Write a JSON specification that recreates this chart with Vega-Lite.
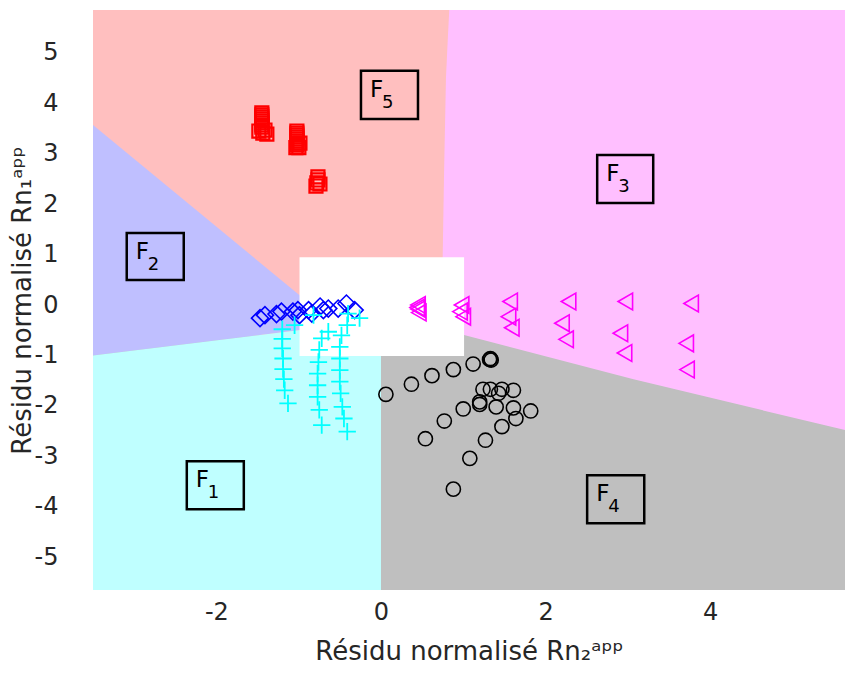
{
  "$schema": "https://vega.github.io/schema/vega-lite/v6.json",
  "width": 752,
  "height": 580,
  "autosize": "none",
  "padding": {"left": 93, "top": 10, "right": 0, "bottom": 87},
  "config": {
    "view": {"fill": "#BFBFBF", "stroke": null},
    "font": "DejaVu Sans"
  },
  "datasets": {
    "pink": [{"x":0.5,"y":-0.38,"y2":5.85},{"x":1.01,"y":-0.595,"y2":5.85},{"x":3.07,"y":-1.47,"y2":5.85},{"x":5.64,"y":-2.48,"y2":5.85}],
    "salmon": [{"y":-0.6,"x":0.74,"x2":-3.5},{"y":0.95,"x":0.75,"x2":-3.5},{"y":2.54,"x":0.766,"x2":-3.5},{"y":4.5,"x":0.79,"x2":-3.5},{"y":5.2,"x":0.81,"x2":-3.5},{"y":5.85,"x":0.83,"x2":-3.5}],
    "blue": [{"x":-3.5,"y":-1.0,"y2":3.57},{"x":-1.0,"y":-0.5,"y2":0.21},{"x":-0.6,"y":-0.42,"y2":-0.33}],
    "cyan": [{"x":-3.5,"y":-5.65,"y2":-1.0},{"x":-1.0,"y":-5.65,"y2":-0.5},{"x":0.0,"y":-5.65,"y2":-0.3}],
    "white": [{"x":-0.99,"x2":1.01,"y":-1.01,"y2":0.95}],
    "circles": [
      {"x":0.06,"y":-1.77},{"x":0.37,"y":-1.57},{"x":0.62,"y":-1.40},{"x":0.88,"y":-1.28},{"x":1.12,"y":-1.17},
      {"x":1.32,"y":-1.08},{"x":1.34,"y":-1.09},{"x":1.33,"y":-1.06},
      {"x":1.24,"y":-1.67},{"x":1.33,"y":-1.67},{"x":1.47,"y":-1.67},{"x":1.61,"y":-1.69},{"x":1.43,"y":-1.75},
      {"x":1.20,"y":-1.92},{"x":1.20,"y":-1.97},{"x":1.40,"y":-2.02},{"x":1.61,"y":-2.04},{"x":1.82,"y":-2.10},
      {"x":1.64,"y":-2.25},{"x":1.47,"y":-2.41},{"x":1.27,"y":-2.68},{"x":1.08,"y":-3.04},{"x":0.88,"y":-3.65},
      {"x":1.00,"y":-2.06},{"x":0.77,"y":-2.30},{"x":0.54,"y":-2.65}
    ],
    "triangles": [
      {"x":0.45,"y":0.0},{"x":0.45,"y":-0.08},{"x":0.46,"y":-0.15},{"x":0.44,"y":-0.05},
      {"x":0.98,"y":0.0},{"x":0.96,"y":-0.13},{"x":1.0,"y":-0.23},
      {"x":1.57,"y":0.07},{"x":1.55,"y":-0.23},{"x":1.59,"y":-0.45},
      {"x":2.28,"y":0.07},{"x":2.20,"y":-0.36},{"x":2.25,"y":-0.68},
      {"x":2.97,"y":0.07},{"x":2.91,"y":-0.56},{"x":2.96,"y":-0.95},
      {"x":3.77,"y":0.03},{"x":3.71,"y":-0.76},{"x":3.72,"y":-1.28}
    ],
    "diamonds": [
      {"x":-1.47,"y":-0.26},{"x":-1.41,"y":-0.20},{"x":-1.27,"y":-0.18},{"x":-1.21,"y":-0.13},{"x":-1.07,"y":-0.13},
      {"x":-1.01,"y":-0.10},{"x":-0.99,"y":-0.20},{"x":-0.88,"y":-0.10},{"x":-0.84,"y":-0.17},{"x":-0.74,"y":-0.03},
      {"x":-0.70,"y":-0.10},{"x":-0.64,"y":-0.07},{"x":-0.52,"y":-0.07},{"x":-0.42,"y":0.03},{"x":-0.32,"y":-0.10}
    ],
    "crosses": [
      {"x":-1.05,"y":-0.40},{"x":-1.20,"y":-0.48},{"x":-1.20,"y":-0.67},{"x":-1.20,"y":-0.86},{"x":-1.19,"y":-1.06},{"x":-1.19,"y":-1.27},{"x":-1.18,"y":-1.47},{"x":-1.17,"y":-1.69},{"x":-1.13,"y":-1.95},
      {"x":-0.82,"y":-0.20},{"x":-0.64,"y":-0.53},{"x":-0.72,"y":-0.66},{"x":-0.75,"y":-0.89},{"x":-0.76,"y":-1.13},{"x":-0.77,"y":-1.36},{"x":-0.77,"y":-1.59},{"x":-0.77,"y":-1.82},{"x":-0.75,"y":-2.08},{"x":-0.72,"y":-2.38},
      {"x":-0.40,"y":-0.17},{"x":-0.26,"y":-0.26},{"x":-0.41,"y":-0.40},{"x":-0.48,"y":-0.60},{"x":-0.50,"y":-0.83},{"x":-0.50,"y":-1.06},{"x":-0.50,"y":-1.29},{"x":-0.50,"y":-1.52},{"x":-0.49,"y":-1.75},{"x":-0.47,"y":-2.02},{"x":-0.45,"y":-2.25},{"x":-0.41,"y":-2.51}
    ],
    "squares": [
      {"x":-1.448,"y":3.81},{"x":-1.448,"y":3.77},{"x":-1.448,"y":3.73},{"x":-1.448,"y":3.69},{"x":-1.448,"y":3.65},{"x":-1.448,"y":3.61},{"x":-1.448,"y":3.57},{"x":-1.448,"y":3.53},
      {"x":-1.484,"y":3.45},{"x":-1.436,"y":3.41},{"x":-1.387,"y":3.39},{"x":-1.41,"y":3.47},
      {"x":-1.022,"y":3.45},{"x":-1.022,"y":3.41},{"x":-1.022,"y":3.37},{"x":-1.022,"y":3.33},{"x":-1.022,"y":3.29},{"x":-1.022,"y":3.25},{"x":-1.022,"y":3.21},{"x":-1.022,"y":3.17},
      {"x":-0.985,"y":3.21},{"x":-0.998,"y":3.12},{"x":-1.034,"y":3.12},
      {"x":-0.766,"y":2.54},{"x":-0.766,"y":2.48},{"x":-0.779,"y":2.42},{"x":-0.79,"y":2.36},{"x":-0.742,"y":2.40}
    ],
    "boxes": [
      {"x":-0.243,"x2":0.450,"y":3.690,"y2":4.643},
      {"x":-3.090,"x2":-2.397,"y":0.496,"y2":1.429},
      {"x":2.628,"x2":3.309,"y":2.024,"y2":2.976},
      {"x":-2.360,"x2":-1.667,"y":-4.048,"y2":-3.095},
      {"x":2.506,"x2":3.200,"y":-4.325,"y2":-3.373}
    ],
    "letters": [
      {"x":-0.134,"y":4.127,"t":"F"},
      {"x":-2.981,"y":0.913,"t":"F"},
      {"x":2.737,"y":2.460,"t":"F"},
      {"x":-2.251,"y":-3.611,"t":"F"},
      {"x":2.616,"y":-3.889,"t":"F"}
    ],
    "digits": [
      {"x":0.012,"y":3.909,"t":"5"},
      {"x":-2.835,"y":0.694,"t":"2"},
      {"x":2.883,"y":2.242,"t":"3"},
      {"x":-2.105,"y":-3.829,"t":"1"},
      {"x":2.762,"y":-4.107,"t":"4"}
    ]
  },
  "encoding": {
    "x": {
      "field": "x", "type": "quantitative",
      "scale": {"domain": [-3.5, 5.64], "nice": false, "zero": false},
      "axis": {
        "title": "Résidu normalisé Rn₂ᵃᵖᵖ", "values": [-2, 0, 2, 4],
        "labelExpr": "'' + datum.value",
        "domain": false, "ticks": false, "grid": false,
        "labelFontSize": 24, "labelPadding": 10, "labelColor": "#262626",
        "titleFontSize": 26, "titleFontWeight": "normal", "titleColor": "#262626", "titlePadding": 14
      }
    },
    "y": {
      "field": "y", "type": "quantitative",
      "scale": {"domain": [-5.65, 5.85], "nice": false, "zero": false},
      "axis": {
        "title": "Résidu normalisé Rn₁ᵃᵖᵖ", "values": [-5, -4, -3, -2, -1, 0, 1, 2, 3, 4, 5],
        "labelExpr": "'' + datum.value",
        "domain": false, "ticks": false, "grid": false,
        "labelFontSize": 24, "labelPadding": 35, "labelColor": "#262626",
        "titleFontSize": 26, "titleFontWeight": "normal", "titleColor": "#262626", "titlePadding": -1
      }
    }
  },
  "layer": [
    {"data": {"name": "pink"}, "mark": {"type": "area", "color": "#FFBFFF", "opacity": 1}, "encoding": {"y2": {"field": "y2"}}},
    {"data": {"name": "salmon"}, "mark": {"type": "area", "orient": "horizontal", "color": "#FFBFBF", "opacity": 1}, "encoding": {"x2": {"field": "x2"}}},
    {"data": {"name": "blue"}, "mark": {"type": "area", "color": "#BFBFFF", "opacity": 1}, "encoding": {"y2": {"field": "y2"}}},
    {"data": {"name": "cyan"}, "mark": {"type": "area", "color": "#BFFFFF", "opacity": 1}, "encoding": {"y2": {"field": "y2"}}},
    {"data": {"name": "white"}, "mark": {"type": "rect", "color": "#FFFFFF", "opacity": 1}, "encoding": {"x2": {"field": "x2"}, "y2": {"field": "y2"}}},
    {"data": {"name": "circles"}, "mark": {"type": "point", "shape": "circle", "filled": false, "color": "#000000", "size": 200, "strokeWidth": 1.6, "opacity": 1}},
    {"data": {"name": "triangles"}, "mark": {"type": "point", "shape": "triangle-left", "filled": false, "color": "#FF00FF", "size": 280, "strokeWidth": 1.6, "opacity": 1}},
    {"data": {"name": "diamonds"}, "mark": {"type": "point", "shape": "diamond", "filled": false, "color": "#0000FF", "size": 290, "strokeWidth": 1.6, "opacity": 1}},
    {"data": {"name": "crosses"}, "mark": {"type": "point", "shape": "M-1,0L1,0M0,-1L0,1", "filled": false, "color": "#00FFFF", "size": 300, "strokeWidth": 1.8, "opacity": 1}},
    {"data": {"name": "squares"}, "mark": {"type": "point", "shape": "square", "filled": false, "color": "#FF0000", "size": 170, "strokeWidth": 2.2, "opacity": 1}},
    {"data": {"name": "boxes"}, "mark": {"type": "rect", "fill": null, "fillOpacity": 0, "stroke": "#000000", "strokeWidth": 2.5}, "encoding": {"x2": {"field": "x2"}, "y2": {"field": "y2"}}},
    {"data": {"name": "letters"}, "mark": {"type": "text", "align": "left", "baseline": "alphabetic", "fontSize": 23, "color": "#000000"}, "encoding": {"text": {"field": "t"}}},
    {"data": {"name": "digits"}, "mark": {"type": "text", "align": "left", "baseline": "alphabetic", "fontSize": 18, "color": "#000000"}, "encoding": {"text": {"field": "t"}}}
  ]
}
